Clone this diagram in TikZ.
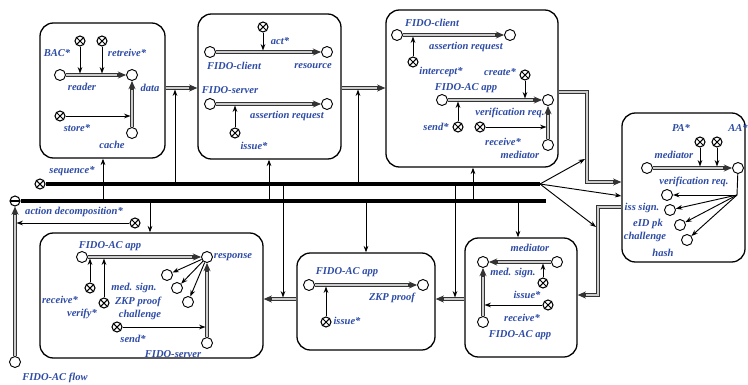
\documentclass[tikz,border=0pt]{standalone}
\usepackage{fontspec}
\setmainfont{Liberation Serif}
\usetikzlibrary{arrows.meta,fit}
\definecolor{lblue}{RGB}{45,75,165}
\tikzset{
  obj/.style={circle, draw, fill=white, line width=0.8pt, minimum size=0.33cm, inner sep=0pt},
  act/.style={circle, draw, fill=white, line width=0.9pt, minimum size=0.3cm, inner sep=0pt,
    path picture={\draw[line width=0.9pt] (path picture bounding box.south west) -- (path picture bounding box.north east)
      (path picture bounding box.north west) -- (path picture bounding box.south east);}},
  neg/.style={circle, draw, fill=white, line width=0.9pt, minimum size=0.3cm, inner sep=0pt,
    path picture={\draw[line width=0.9pt] (path picture bounding box.west) -- (path picture bounding box.east);}},
  lbl/.style={font=\fontsize{9}{10}\selectfont\bfseries\itshape, text=lblue, inner sep=0pt},
  frame/.style={draw, rounded corners=0.4cm, line width=1.1pt, inner sep=0pt},
  flow/.style={draw=black!80, line width=2.7pt, -{Stealth[length=7pt,width=6pt]},
    postaction={draw=black!20, line width=1.3pt, arrows=-, shorten >=7.5pt}},
  arr/.style={line width=0.8pt, -{Stealth[length=5.5pt,width=4pt]}},
  hit/.style={arr, shorten >=1.3pt},
  bus/.style={line width=3.6pt},
}
\begin{document}
\begin{tikzpicture}[x=0.03cm, y=-0.03cm]
        \useasboundingbox (0,0) rectangle (748,384);
        % the seven frames
        \node[frame, fit={(40,23) (165,158)}] (b1) {};
        \node[frame, fit={(198,14) (341,159)}] (b2) {};
        \node[frame, fit={(386,10) (558,167)}] (b3) {};
        \node[frame, fit={(622,113) (745,262)}] (b4) {};
        \node[frame, fit={(40,233) (263,358)}] (b5) {};
        \node[frame, fit={(297,253) (435,350)}] (b6) {};
        \node[frame, fit={(465,238) (577,357)}] (b7) {};

        % frame 1
        \node[act] (bac) at (80,41) {};
        \node[act] (retr) at (102,41) {};
        \node[obj] (reader) at (60,75) {};
        \node[obj] (data) at (132,75) {};
        \node[act] (store) at (60,116) {};
        \node[obj] (cache) at (132,133) {};
        \node[lbl] (lbac) at (57,53) {BAC*};
        \node[lbl] (lretr) at (127,53) {retreive*};
        \node[lbl] (lreader) at (82,87) {reader};
        \node[lbl] (ldata) at (150,88) {data};
        \node[lbl] (lstore) at (77,128) {store*};
        \node[lbl] (lcache) at (112,145) {cache};
        \draw[flow] (reader) -- (data);
        \draw[flow] (cache) -- (data);
        \draw[hit] (bac) -- (bac |- reader);
        \draw[hit] (retr) -- (retr |- reader);
        \draw[hit] (store) -- (store -| data);

        % frame 2
        \node[act] (actx) at (263,27) {};
        \node[obj] (cli2) at (210,52) {};
        \node[obj] (res2) at (327,52) {};
        \node[obj] (srv2) at (210,104) {};
        \node[obj] (areq2) at (327,104) {};
        \node[act] (iss2) at (235,133) {};
        \node[lbl] (lact) at (280,41) {act*};
        \node[lbl] (lcli2) at (234,66) {FIDO-client};
        \node[lbl] (lres2) at (313,66) {resource};
        \node[lbl] (lsrv2) at (230,90) {FIDO-server};
        \node[lbl] (lareq2) at (287,116) {assertion request};
        \node[lbl] (liss2) at (254,146) {issue*};
        \draw[flow] (cli2) -- (res2);
        \draw[flow] (srv2) -- (areq2);
        \draw[hit] (actx) -- (actx |- cli2);
        \draw[hit] (iss2) -- (iss2 |- srv2);

        % frame 3
        \node[obj] (cli3) at (397,35) {};
        \node[obj] (areq3) at (510,35) {};
        \node[act] (intc) at (413,62) {};
        \node[act] (crt) at (525,75) {};
        \node[obj] (app3) at (442,100) {};
        \node[obj] (vreq3) at (548,100) {};
        \node[act] (snd3) at (458,127) {};
        \node[act] (rcv3) at (480,127) {};
        \node[obj] (med3) at (548,145) {};
        \node[lbl] (lcli3) at (432,23) {FIDO-client};
        \node[lbl] (lareq3) at (466,47) {assertion request};
        \node[lbl] (lintc) at (441,72) {intercept*};
        \node[lbl] (lcrt) at (500,72) {create*};
        \node[lbl] (lapp3) at (466,88) {FIDO-AC app};
        \node[lbl] (lvreq3) at (510,113) {verification req.};
        \node[lbl] (lsnd3) at (436,127) {send*};
        \node[lbl] (lrcv3) at (503,142) {receive*};
        \node[lbl] (lmed3) at (520,155) {mediator};
        \draw[flow] (cli3) -- (areq3);
        \draw[flow] (app3) -- (vreq3);
        \draw[flow] (med3) -- (vreq3);
        \draw[hit] (intc) -- (intc |- cli3);
        \draw[hit] (crt) -- (crt |- vreq3);
        \draw[hit] (snd3) -- (snd3 |- app3);
        \draw[hit] (rcv3) -- (rcv3 -| med3);

        % frame 4
        \node[act] (pa) at (700,142) {};
        \node[act] (aa) at (717,142) {};
        \node[obj] (med4) at (647,168) {};
        \node[obj] (vreq4) at (738,168) {};
        \coordinate (fan4) at (737,195);
        \node[obj] (sig4) at (667,195) {};
        \node[obj] (eid4) at (670,210) {};
        \node[obj] (chal4) at (680,225) {};
        \node[obj] (hash4) at (687,240) {};
        \node[lbl] (lpa) at (681,128) {PA*};
        \node[lbl] (laa) at (738,128) {AA*};
        \node[lbl] (lmed4) at (674,155) {mediator};
        \node[lbl] (lvreq4) at (694,182) {verification req.};
        \node[lbl] (lsig4) at (642,208) {iss sign.};
        \node[lbl] (leid4) at (648,224) {eID pk};
        \node[lbl] (lchal4) at (645,237) {challenge};
        \node[lbl] (lhash4) at (663,253) {hash};
        \draw[flow] (med4) -- (vreq4);
        \draw[hit] (pa) -- (pa |- med4);
        \draw[hit] (aa) -- (aa |- med4);
        \draw[line width=0.8pt] (vreq4) -- (fan4);
        \draw[arr] (fan4) -- (sig4);
        \draw[arr] (fan4) -- (eid4);
        \draw[arr] (fan4) -- (chal4);
        \draw[arr] (fan4) -- (hash4);

        % frame 5
        \node[obj] (app5) at (82,257) {};
        \node[obj] (resp) at (207,257) {};
        \node[act] (rcv5) at (90,288) {};
        \node[act] (ver5) at (104,303) {};
        \node[obj] (sig5) at (167,275) {};
        \node[obj] (zkp5) at (177,288) {};
        \node[obj] (chal5) at (188,302) {};
        \node[act] (snd5) at (117,327) {};
        \node[obj] (srv5) at (207,343) {};
        \node[lbl] (lapp5) at (110,246) {FIDO-AC app};
        \node[lbl] (lresp) at (233,257) {response};
        \node[lbl] (lrcv5) at (60,300) {receive*};
        \node[lbl] (lver5) at (82,314) {verify*};
        \node[lbl] (lsig5) at (134,288) {med. sign.};
        \node[lbl] (lzkp5) at (138,302) {ZKP proof};
        \node[lbl] (lchal5) at (140,315) {challenge};
        \node[lbl] (lsnd5) at (133,339) {send*};
        \node[lbl] (lsrv5) at (173,354) {FIDO-server};
        \draw[flow] (app5) -- (resp);
        \draw[flow] (srv5) -- (resp);
        \draw[hit] (rcv5) -- (rcv5 |- app5);
        \draw[hit] (ver5) -- (ver5 |- app5);
        \draw[hit] (snd5) -- (snd5 -| srv5);
        \draw[arr] (resp) -- (sig5);
        \draw[arr] (resp) -- (zkp5);
        \draw[arr] (resp) -- (chal5);

        % frame 6
        \node[obj] (app6) at (309,285) {};
        \node[obj] (zkp6) at (423,285) {};
        \node[act] (iss6) at (326,322) {};
        \node[lbl] (lapp6) at (347,272) {FIDO-AC app};
        \node[lbl] (lzkp6) at (392,298) {ZKP proof};
        \node[lbl] (liss6) at (347,321) {issue*};
        \draw[flow] (app6) -- (zkp6);
        \draw[hit] (iss6) -- (iss6 |- app6);

        % frame 7
        \node[obj] (lft7) at (483,262) {};
        \node[obj] (rgt7) at (557,262) {};
        \node[act] (iss7) at (543,283) {};
        \node[act] (rcv7) at (548,305) {};
        \node[obj] (app7) at (483,322) {};
        \node[lbl] (lmed7) at (530,248) {mediator};
        \node[lbl] (lsig7) at (513,273) {med. sign.};
        \node[lbl] (liss7) at (527,295) {issue*};
        \node[lbl] (lrcv7) at (522,318) {receive*};
        \node[lbl] (lapp7) at (520,335) {FIDO-AC app};
        \draw[flow] (rgt7) -- (lft7);
        \draw[flow] (app7) -- (lft7);
        \draw[hit] (iss7) -- (iss7 |- rgt7);
        \draw[hit] (rcv7) -- (rcv7 -| lft7);

        % flows between frames
        \coordinate (f12) at (b1.east |- 0,88);
        \coordinate (f23) at (b2.east |- 0,88);
        \coordinate (f65) at (b6.west |- 0,299);
        \coordinate (f76) at (b7.west |- 0,299);
        \draw[flow] (f12) -- (b2.west |- f12);
        \draw[flow] (f23) -- (b3.west |- f23);
        \draw[flow] (b3.east |- 0,92) -| (587,182) -- (b4.west |- 0,182);
        \draw[flow] (b4.west |- 0,207) -| (598,295) -- (b7.east |- 0,295);
        \draw[flow] (f76) -- (b6.east |- f76);
        \draw[flow] (f65) -- (b5.east |- f65);

        % the two bars
        \node[act] (seq) at (40,184) {};
        \node[neg] (dec) at (15,201) {};
        \coordinate (forkA) at (540,184);
        \coordinate (endB) at (546,201);
        \draw[bus] (seq) -- (forkA);
        \draw[bus] (dec) -- (endB);
        \node[lbl] (lseq) at (72,171) {sequence*};
        \coordinate (tap34) at (585,159);
        \coordinate (tap47) at (596,227);
        \draw[arr] (forkA) -- (tap34);
        \draw[arr] (forkA) -- (b4.west |- 0,196);
        \draw[arr] (forkA) -- (tap47);

        % taps from the upper bar
        \draw[hit] (seq -| 175,0) -- (f12 -| 175,0);
        \draw[hit] (seq -| 358,0) -- (f23 -| 358,0);
        \draw[hit] (seq -| 283,0) -- (f65 -| 283,0);
        \draw[hit] (seq -| 455,0) -- (f76 -| 455,0);
        % taps from the lower bar
        \draw[arr] (dec -| 103,0) -- (b1.south -| 103,0);
        \draw[arr] (dec -| 269,0) -- (b2.south -| 269,0);
        \draw[arr] (dec -| 473,0) -- (b3.south -| 473,0);
        \draw[arr] (dec -| 150,0) -- (b5.north -| 150,0);
        \draw[arr] (dec -| 366,0) -- (b6.north -| 366,0);
        \draw[arr] (dec -| 518,0) -- (b7.north -| 518,0);

        % flow start and decomposition
        \node[obj] (fflow) at (15,362) {};
        \node[lbl] (lfflow) at (55,378) {FIDO-AC flow};
        \draw[flow] (fflow) -- (dec);
        \node[act] (adec) at (135,223) {};
        \node[lbl] (ladec) at (74,212) {action decomposition*};
        \draw[hit] (adec) -- (adec -| fflow);
    \end{tikzpicture}
\end{document}
